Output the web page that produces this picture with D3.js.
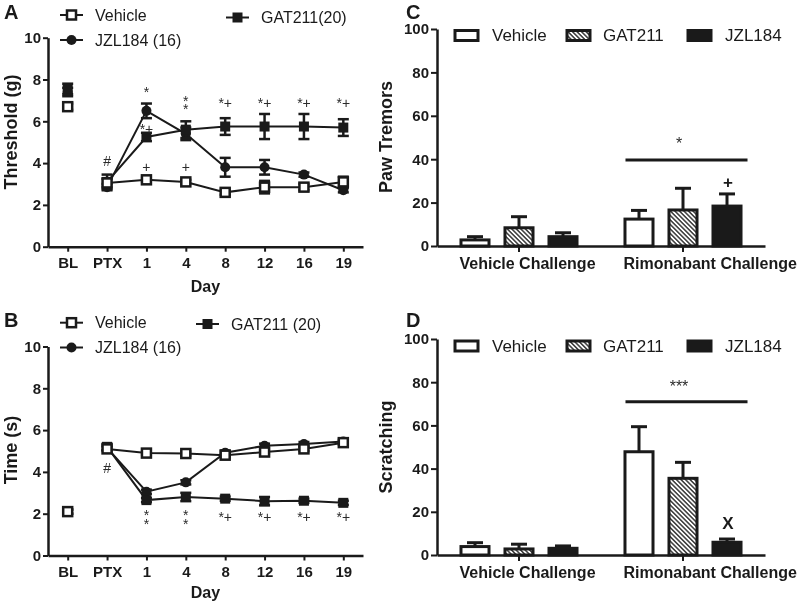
<!DOCTYPE html>
<html>
<head>
<meta charset="utf-8">
<script src="https://cdn.jsdelivr.net/npm/d3@7.9.0/dist/d3.min.js"></script>
<style>
  body { margin: 0; background: #fff; }
  svg { display: block; font-family: "Liberation Sans", Arial, sans-serif; will-change: transform; }
</style>
</head>
<body>
<svg width="800" height="605"></svg>
<script>
// ---- data ----
const days = ['BL', 'PTX', '1', '4', '8', '12', '16', '19'];

// panel A: mechanical threshold (g)
const vehA = [6.7, 3.05, 3.2, 3.1, 2.6, 2.85, 2.85, 3.1];
const vehAErr = [0.15, 0.2, 0.1, 0.1, 0.12, 0.3, 0.15, 0.25];
const jzlA = [7.4, 2.85, 6.5, 5.4, 3.8, 3.8, 3.45, 2.7];
const jzlAErr = [0.2, 0.15, 0.35, 0.3, 0.45, 0.35, 0.1, 0.1];
const gatA = [7.55, 3.1, 5.25, 5.6, 5.75, 5.75, 5.75, 5.7];
const gatAErr = [0.25, 0.35, 0.2, 0.4, 0.4, 0.6, 0.6, 0.4];
// stacked marks use '|' as a line break
const annA = [
  { day: 'PTX', text: '#', v: 4.1 },
  { day: '1', text: '*', v: 7.55 },
  { day: '1', text: '*+', v: 5.8 },
  { day: '1', text: '+', v: 3.8 },
  { day: '4', text: '*|*', v: 7.15 },
  { day: '4', text: '+', v: 3.8 },
  { day: '8', text: '*+', v: 7.05 },
  { day: '12', text: '*+', v: 7.05 },
  { day: '16', text: '*+', v: 7.05 },
  { day: '19', text: '*+', v: 7.05 }
];

// panel B: time (s)
const vehB = [2.1, 5.1, 4.9, 4.88, 4.8, 4.95, 5.1, 5.4];
const vehBErr = [0.1, 0.1, 0.1, 0.1, 0.1, 0.1, 0.1, 0.1];
const jzlB = [2.1, 5.15, 3.05, 3.5, 4.92, 5.25, 5.33, 5.45];
const jzlBErr = [0.1, 0.1, 0.1, 0.1, 0.1, 0.1, 0.1, 0.1];
const gatB = [2.1, 5.2, 2.65, 2.8, 2.72, 2.6, 2.62, 2.52];
const gatBErr = [0.1, 0.15, 0.1, 0.2, 0.1, 0.2, 0.1, 0.1];
const annB = [
  { day: 'PTX', text: '#', v: 4.2 },
  { day: '1', text: '*|*', v: 2.1 },
  { day: '4', text: '*|*', v: 2.1 },
  { day: '8', text: '*+', v: 2.0 },
  { day: '12', text: '*+', v: 2.0 },
  { day: '16', text: '*+', v: 2.0 },
  { day: '19', text: '*+', v: 2.0 }
];

// panels C and D: bar charts
const groups = ['Vehicle Challenge', 'Rimonabant Challenge'];
const treatments = ['Vehicle', 'GAT211', 'JZL184'];
const tremor = [[2.8, 8.4, 4.3], [12.4, 16.6, 18.4]];
const tremorErr = [[1.5, 5.1, 1.8], [4.0, 10.0, 5.6]];
const scratch = [[3.9, 2.8, 3.1], [47.8, 35.5, 5.9]];
const scratchErr = [[1.8, 2.2, 1.1], [11.6, 7.4, 1.5]];

const ink = '#1a1a1a';
const svg = d3.select('svg');

// hatch pattern for GAT211 bars
svg.append('defs').append('pattern')
  .attr('id', 'hatch')
  .attr('patternUnits', 'userSpaceOnUse')
  .attr('width', 6).attr('height', 3.2)
  .attr('patternTransform', 'rotate(45)')
  .call((p) => {
    p.append('rect').attr('width', 6).attr('height', 3.2).attr('fill', '#fff');
    p.append('line').attr('x1', 0).attr('x2', 6).attr('y1', 1.6).attr('y2', 1.6)
      .attr('stroke', ink).attr('stroke-width', 1.3);
  });

function styleAxis(a) {
  a.attr('font-size', 15).attr('font-family', null);
  a.select('.domain').attr('stroke', ink).attr('stroke-width', 2.5);
  a.selectAll('.tick line').attr('stroke', ink).attr('stroke-width', 2);
  a.selectAll('.tick text').attr('font-weight', 'bold').attr('fill', ink);
}

function marker(g, type, cx, cy) {
  if (type === 'open') {
    g.append('rect').attr('x', cx - 4.5).attr('y', cy - 4.5).attr('width', 9).attr('height', 9)
      .attr('fill', '#fff').attr('stroke', ink).attr('stroke-width', 2.5);
  } else if (type === 'square') {
    g.append('rect').attr('x', cx - 5).attr('y', cy - 5).attr('width', 10).attr('height', 10)
      .attr('fill', ink);
  } else {
    g.append('circle').attr('cx', cx).attr('cy', cy).attr('r', 5).attr('fill', ink);
  }
}

function linePanel(opt) {
  const g = svg.append('g');
  const x = d3.scalePoint().domain(days).range([48, 363]).padding(0.5);
  const y = d3.scaleLinear().domain([0, 10]).range([opt.y0, opt.y10]);

  g.append('g').attr('transform', 'translate(48,0)')
    .call(d3.axisLeft(y).tickValues([0, 2, 4, 6, 8, 10]).tickSize(5).tickSizeOuter(0).tickPadding(2))
    .call(styleAxis);
  g.append('g').attr('transform', `translate(0,${opt.y0})`)
    .call(d3.axisBottom(x).tickSize(5).tickSizeOuter(0).tickPadding(6))
    .call(styleAxis);

  const line = d3.line().x((d, i) => x(days[i + 1])).y((d) => y(d));

  // connecting lines start at PTX
  opt.series.forEach((s) => {
    g.append('path').attr('d', line(s.values.slice(1)))
      .attr('fill', 'none').attr('stroke', ink).attr('stroke-width', 2);
  });

  opt.series.forEach((s) => {
    s.values.forEach((v, i) => {
      const cx = x(days[i]);
      const e = s.errs[i];
      g.append('line').attr('x1', cx).attr('x2', cx).attr('y1', y(v - e)).attr('y2', y(v + e))
        .attr('stroke', ink).attr('stroke-width', 2.5);
      [v - e, v + e].forEach((t) => {
        g.append('line').attr('x1', cx - 5.5).attr('x2', cx + 5.5).attr('y1', y(t)).attr('y2', y(t))
          .attr('stroke', ink).attr('stroke-width', 2.5);
      });
      marker(g, s.marker, cx, y(v));
    });
  });

  // significance marks
  opt.ann.forEach((a) => {
    const t = g.append('text').attr('x', x(a.day)).attr('y', y(a.v))
      .attr('dy', a.text[0] === '*' ? '0.6em' : '0.35em')
      .attr('text-anchor', 'middle').attr('font-size', 14).attr('fill', '#2a2a2a');
    a.text.split('|').forEach((part, k) => {
      t.append('tspan').attr('x', x(a.day)).attr('dy', k === 0 ? (part[0] === '*' ? '0.6em' : '0.35em') : '0.62em')
        .text(part);
    });
  });

  // legend
  opt.legend.forEach((l) => {
    g.append('line').attr('x1', l.x).attr('x2', l.x + 23).attr('y1', l.y).attr('y2', l.y)
      .attr('stroke', ink).attr('stroke-width', 2);
    marker(g, l.marker, l.x + 11.5, l.y);
    g.append('text').attr('x', l.tx).attr('y', l.y).attr('dy', '0.35em')
      .attr('font-size', 16).attr('fill', ink).text(l.name);
  });

  g.append('text').attr('x', 205.5).attr('y', opt.dayY)
    .attr('text-anchor', 'middle').attr('font-size', 16).attr('font-weight', 'bold')
    .attr('fill', ink).text('Day');
  g.append('text').attr('transform', `translate(17,${opt.labY}) rotate(-90)`)
    .attr('text-anchor', 'middle').attr('font-size', 18).attr('font-weight', 'bold')
    .attr('fill', ink).text(opt.yLabel);
  g.append('text').attr('x', 4).attr('y', opt.letterY)
    .attr('font-size', 20).attr('font-weight', 'bold').attr('fill', ink).text(opt.letter);
}

function barPanel(opt) {
  const g = svg.append('g');
  const x0 = d3.scaleBand().domain(groups).range([437, 765]);
  const x1 = d3.scaleBand().domain(treatments).range([0, x0.bandwidth()])
    .paddingInner(0.295).paddingOuter(0.511);
  const y = d3.scaleLinear().domain([0, 100]).range([opt.y0, opt.y100]);
  const fills = { Vehicle: '#fff', GAT211: 'url(#hatch)', JZL184: ink };

  groups.forEach((grp, gi) => {
    treatments.forEach((t, ti) => {
      const v = opt.values[gi][ti];
      const e = opt.errs[gi][ti];
      const bx = x0(grp) + x1(t);
      const cx = bx + x1.bandwidth() / 2;
      g.append('line').attr('x1', cx).attr('x2', cx).attr('y1', y(v)).attr('y2', y(v + e))
        .attr('stroke', ink).attr('stroke-width', 3);
      g.append('line').attr('x1', cx - 8).attr('x2', cx + 8).attr('y1', y(v + e)).attr('y2', y(v + e))
        .attr('stroke', ink).attr('stroke-width', 3);
      g.append('rect').attr('x', bx + 1.5).attr('y', y(v))
        .attr('width', x1.bandwidth() - 3).attr('height', y(0) - y(v))
        .attr('fill', fills[t]).attr('stroke', ink).attr('stroke-width', 3);
    });
    g.append('text').attr('x', x0(grp) + x1(treatments[0])).attr('y', opt.catY)
      .attr('font-size', 16).attr('font-weight', 'bold').attr('fill', ink).text(grp);
  });

  g.append('g').attr('transform', 'translate(437,0)')
    .call(d3.axisLeft(y).tickValues([0, 20, 40, 60, 80, 100]).tickSize(6).tickSizeOuter(0).tickPadding(2))
    .call(styleAxis);
  g.append('g').attr('transform', `translate(0,${opt.y0})`)
    .call(d3.axisBottom(x0).tickSize(6).tickSizeOuter(0).tickFormat(''))
    .call(styleAxis);

  // significance bar over the rimonabant group
  const g2 = groups[1];
  g.append('line')
    .attr('x1', x0(g2) + x1(treatments[0]) + 2).attr('x2', x0(g2) + x1(treatments[2]) + x1.bandwidth() + 5)
    .attr('y1', y(opt.sig.v)).attr('y2', y(opt.sig.v))
    .attr('stroke', ink).attr('stroke-width', 3);
  g.append('text').attr('x', x0(g2) + x1(treatments[1]) + x1.bandwidth() / 2 - 4).attr('y', y(opt.sig.tv))
    .attr('dy', '0.6em').attr('text-anchor', 'middle').attr('font-size', 16).attr('fill', '#2a2a2a')
    .text(opt.sig.text);
  g.append('text').attr('x', x0(g2) + x1(treatments[2]) + x1.bandwidth() / 2 + 1).attr('y', y(opt.mark.v))
    .attr('dy', '0.35em').attr('text-anchor', 'middle').attr('font-size', 17).attr('font-weight', 'bold')
    .attr('fill', ink).text(opt.mark.text);

  // legend
  const lx = [{ sx: 455, tx: 492 }, { sx: 567, tx: 603 }, { sx: 688, tx: 725 }];
  treatments.forEach((t, i) => {
    g.append('rect').attr('x', lx[i].sx).attr('y', opt.legY - 5).attr('width', 23).attr('height', 10)
      .attr('fill', fills[t]).attr('stroke', ink).attr('stroke-width', 3);
    g.append('text').attr('x', lx[i].tx).attr('y', opt.legY).attr('dy', '0.35em')
      .attr('font-size', 17).attr('fill', ink).text(t);
  });

  g.append('text').attr('transform', `translate(392,${opt.labY}) rotate(-90)`)
    .attr('text-anchor', 'middle').attr('font-size', 18).attr('font-weight', 'bold')
    .attr('fill', ink).text(opt.yLabel);
  g.append('text').attr('x', 406).attr('y', opt.letterY)
    .attr('font-size', 20).attr('font-weight', 'bold').attr('fill', ink).text(opt.letter);
}

linePanel({
  y0: 246.7, y10: 37.7, dayY: 292, labY: 132, letter: 'A', letterY: 19, yLabel: 'Threshold (g)',
  series: [
    { values: jzlA, errs: jzlAErr, marker: 'circle' },
    { values: gatA, errs: gatAErr, marker: 'square' },
    { values: vehA, errs: vehAErr, marker: 'open' }
  ],
  ann: annA,
  legend: [
    { name: 'Vehicle', marker: 'open', x: 60, tx: 95, y: 15 },
    { name: 'JZL184 (16)', marker: 'circle', x: 60, tx: 95, y: 40 },
    { name: 'GAT211(20)', marker: 'square', x: 226, tx: 261, y: 17.5 }
  ]
});

linePanel({
  y0: 555.5, y10: 346.5, dayY: 598, labY: 450, letter: 'B', letterY: 327, yLabel: 'Time (s)',
  series: [
    { values: jzlB, errs: jzlBErr, marker: 'circle' },
    { values: gatB, errs: gatBErr, marker: 'square' },
    { values: vehB, errs: vehBErr, marker: 'open' }
  ],
  ann: annB,
  legend: [
    { name: 'Vehicle', marker: 'open', x: 60, tx: 95, y: 322.7 },
    { name: 'JZL184 (16)', marker: 'circle', x: 60, tx: 95, y: 347.5 },
    { name: 'GAT211 (20)', marker: 'square', x: 196, tx: 231, y: 324 }
  ]
});

barPanel({
  y0: 246, y100: 29, catY: 269, legY: 35.5, labY: 137, letter: 'C', letterY: 19,
  yLabel: 'Paw Tremors', values: tremor, errs: tremorErr,
  sig: { v: 39.6, tv: 49, text: '*' },
  mark: { v: 29.6, text: '+' }
});

barPanel({
  y0: 555, y100: 339, catY: 578, legY: 346, labY: 447, letter: 'D', letterY: 327,
  yLabel: 'Scratching', values: scratch, errs: scratchErr,
  sig: { v: 71, tv: 80, text: '***' },
  mark: { v: 14.7, text: 'X' }
});
</script>
</body>
</html>
